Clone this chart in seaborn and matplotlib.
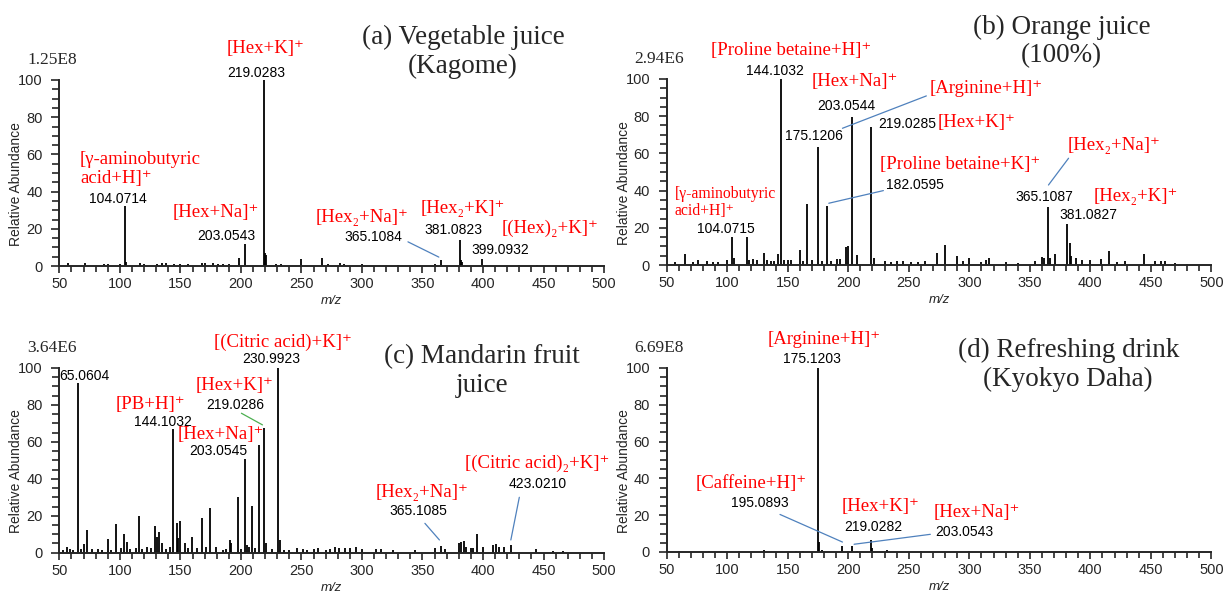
import matplotlib
matplotlib.use("Agg")
import matplotlib.pyplot as plt
from matplotlib.ticker import MultipleLocator
import seaborn as sns

# peaks: (m/z, relative abundance %)
peaks_a = [(57, 1.5), (71, 1.5), (87, 1.2), (90, 1.2), (100, 1.0), (104.07, 32), (105, 2),
           (117, 1.5), (120, 1.0), (131, 1.2), (135, 1.5), (138, 1.5), (145, 1.2), (150, 1.0),
           (156, 1.2), (168, 1.5), (170, 1.8), (177, 1.5), (181, 1.2), (185, 1.2), (190, 1.0),
           (198, 4.5), (203.05, 12), (219.03, 100), (220, 7), (221, 6), (229, 1.2), (233, 1.0),
           (250, 4), (267, 4.5), (272, 1.0), (282, 1.5), (285, 1.2), (300, 1.0), (330, 0.8),
           (360, 1.0), (365.11, 3), (381.08, 14), (382, 3), (383, 2), (399.09, 4), (430, 0.5),
           (445, 0.5)]

peaks_b = [(57, 1.5), (65, 5.8), (72, 1.5), (76, 2.5), (83, 2), (88, 1.5), (92, 1.5), (100, 2.5),
           (104.07, 15), (106, 3.5), (116, 15), (118, 2.5), (121, 3), (125, 2.5), (130, 6.5),
           (133, 2.5), (136, 2), (139, 2), (142, 6), (144.10, 100), (147, 2.5), (150, 2.5),
           (153, 2.5), (160, 8), (163, 2), (166, 32.6), (170, 2.5), (175.12, 63.6), (178, 2),
           (182.06, 31.5), (186, 2), (191, 3), (193, 3), (198, 9.5), (200, 10), (203.05, 79.3),
           (207, 5.6), (219.03, 74), (221, 4), (230, 2), (235, 1.5), (240, 2), (245, 2),
           (252, 1.5), (258, 1.5), (263, 2), (273, 6.7), (280, 10.8), (290, 4.9), (295, 2),
           (300, 4), (310, 1.5), (314, 2.5), (316, 3.6), (330, 1.5), (340, 1.2), (354, 2.2),
           (360, 4.5), (362, 4), (365.11, 31.2), (367, 3.6), (371, 5.8), (381.08, 22.2),
           (383, 12), (384, 5), (388, 4), (393, 2.7), (400, 2.7), (409, 3.2), (415, 7.6),
           (422, 1.5), (429, 2.2), (444, 5.8), (453, 2.3), (458, 2), (462, 2), (470, 1.0),
           (480, 0.8)]

peaks_c = [(53, 1.5), (56.6, 3), (59, 2), (61, 1.5), (65.06, 91.7), (68, 2), (70.6, 4.5),
           (73, 12.3), (77, 2), (82, 2), (85, 1.5), (90, 7.2), (93, 1.5), (97, 15.5), (101, 2.5),
           (103, 10.3), (105.6, 6), (108, 2), (113, 2.5), (115.5, 20), (118, 2), (122, 3.3),
           (126, 2.5), (129.3, 14.4), (131, 8.7), (132.6, 11), (134.8, 5), (138, 2), (141, 3),
           (144.10, 66.8), (147, 15.9), (148, 8), (149.6, 17.1), (153.8, 5), (156, 2.5),
           (159.8, 8.5), (164, 2.5), (167.5, 19), (171, 3), (174.7, 24.4), (179.6, 3.3),
           (185, 1.5), (188, 2), (191, 6.9), (192, 5), (197.5, 30.1), (200, 2), (203.05, 50.9),
           (204.8, 4), (207, 3), (209.5, 25.3), (212, 2.5), (215, 58.1), (219.03, 67.7),
           (220.4, 5.4), (226, 2), (230.99, 100), (232, 6.9), (236, 1.5), (240, 1.5), (246, 2.7),
           (251, 2), (255, 1.5), (260, 2), (264, 2.5), (270, 1.5), (274, 2), (278, 3),
           (281, 2.5), (286, 2.5), (290, 2.5), (295, 3), (300, 2), (312, 2), (316, 2),
           (326, 1.5), (344, 1.5), (360, 2.5), (365.11, 3.6), (369, 2), (380, 5.4), (382, 6),
           (384, 6.3), (386, 3), (390, 2.5), (392, 2.5), (395, 10.3), (400, 3), (408, 4.2),
           (411, 4.5), (413, 3), (417, 3), (423.02, 4.2), (444, 2), (458, 1.0), (466, 1.0)]

peaks_d = [(60, 0.5), (85, 0.4), (110, 0.4), (130, 1.0), (157, 0.6), (163, 0.8), (175.12, 100),
           (176, 5.4), (178, 1.0), (195.09, 3), (200, 0.6), (203.05, 3.2), (207, 0.6),
           (219.03, 6.7), (220, 2), (232, 1.0), (260, 0.4), (300, 0.3), (350, 0.3), (381, 0.8),
           (383, 0.5)]

scales = ["1.25E8", "2.94E6", "3.64E6", "6.69E8"]
titles = ["(a) Vegetable juice\n(Kagome)", "(b) Orange juice\n(100%)",
          "(c) Mandarin fruit\njuice", "(d) Refreshing drink\n(Kyokyo Daha)"]

# annotations: (x, y, text, kind)  kind: ion = red label, mz = black number
notes_a = [
    (220, 117, "[Hex+K]⁺", "ion"), (213, 104, "219.0283", "mz"),
    (67, 52.4, "[γ-aminobutyric\nacid+H]⁺", "ionL"), (98.6, 36, "104.0714", "mz"),
    (179.5, 29, "[Hex+Na]⁺", "ion"), (188, 16, "203.0543", "mz"),
    (300, 26.3, "[Hex₂+Na]⁺", "ion"), (309.5, 15.6, "365.1084", "mz"),
    (383, 31, "[Hex₂+K]⁺", "ion"), (375.6, 19.4, "381.0823", "mz"),
    (455.6, 20, "[(Hex)₂+K]⁺", "ion"), (414, 8.6, "399.0932", "mz"),
]
notes_b = [
    (152.7, 115.2, "[Proline betaine+H]⁺", "ion"), (139, 104.3, "144.1032", "mz"),
    (205.2, 98.6, "[Hex+Na]⁺", "ion"), (198, 85.5, "203.0544", "mz"),
    (314, 95, "[Arginine+H]⁺", "ion"), (171.5, 69.4, "175.1206", "mz"),
    (248.7, 75.6, "219.0285", "mz"), (306, 76.5, "[Hex+K]⁺", "ion"),
    (292, 53.8, "[Proline betaine+K]⁺", "ion"), (254.7, 43, "182.0595", "mz"),
    (56.4, 33.6, "[γ-aminobutyric\nacid+H]⁺", "ionS"), (98.8, 19.2, "104.0715", "mz"),
    (420, 64.5, "[Hex₂+Na]⁺", "ion"), (361.6, 36.4, "365.1087", "mz"),
    (437.6, 37, "[Hex₂+K]⁺", "ion"), (398.8, 26.9, "381.0827", "mz"),
]
notes_c = [
    (234.4, 113.8, "[(Citric acid)+K]⁺", "ion"), (224.8, 104.8, "230.9923", "mz"),
    (71, 95.7, "65.0604", "mz"),
    (194.4, 90.5, "[Hex+K]⁺", "ion"), (195, 80, "219.0286", "mz"),
    (125.2, 80.4, "[PB+H]⁺", "ion"), (135.2, 70.6, "144.1032", "mz"),
    (183, 63.8, "[Hex+Na]⁺", "ion"), (181.5, 55.3, "203.0545", "mz"),
    (444.5, 48.4, "[(Citric acid)₂+K]⁺", "ion"), (444.9, 37, "423.0210", "mz"),
    (349.6, 32.5, "[Hex₂+Na]⁺", "ion"), (346.7, 22.8, "365.1085", "mz"),
]
notes_d = [
    (179.7, 115.6, "[Arginine+H]⁺", "ion"), (169.8, 104.8, "175.1203", "mz"),
    (119.4, 37, "[Caffeine+H]⁺", "ion"), (126.9, 26.8, "195.0893", "mz"),
    (226.8, 24.9, "[Hex+K]⁺", "ion"), (220.4, 13.5, "219.0282", "mz"),
    (306, 21.3, "[Hex+Na]⁺", "ion"), (295.6, 11, "203.0543", "mz"),
]

# leader lines: (x0, y0, x1, y1, colour)
BLUE = "#4f81bd"
lines_a = [(338, 13, 363.5, 4.8, BLUE)]
lines_b = [(264.5, 90.9, 195.2, 73.5, BLUE), (229, 40, 183.9, 33.2, BLUE),
           (382, 57.4, 365.4, 43, BLUE)]
lines_c = [(200.4, 75.5, 217.8, 69.2, "#4caf50"), (430, 30, 423, 6.9, BLUE),
           (352, 15.9, 364, 6.9, BLUE)]
lines_d = [(143.6, 20.4, 195.2, 5.4, BLUE), (267.8, 9.6, 204.8, 4.2, BLUE)]

title_pos = [(383.4, 115.3), (376.4, 120.2), (399, 98.4), (381.7, 101.7)]

sns.set_style("ticks")
plt.rcParams["font.family"] = ["Liberation Sans", "DejaVu Sans"]

fig = plt.figure(figsize=(12.24, 5.97), dpi=100)
boxes = [(0.0485, 0.5544, 0.445, 0.3116), (0.5447, 0.5561, 0.445, 0.3116),
         (0.0485, 0.0742, 0.445, 0.3094), (0.5447, 0.0754, 0.445, 0.3082)]

SERIF = ["Liberation Serif", "DejaVu Serif"]


def draw_panel(ax, peaks, scale, title, tpos, notes, leaders):
    mz = [p[0] for p in peaks]
    ab = [p[1] for p in peaks]
    ax.vlines(mz, 0, ab, color="black", lw=1.3, clip_on=False)
    ax.set_xlim(50, 500)
    ax.set_ylim(0, 100)
    ax.xaxis.set_major_locator(MultipleLocator(50))
    ax.xaxis.set_minor_locator(MultipleLocator(10))
    ax.yaxis.set_major_locator(MultipleLocator(20))
    ax.yaxis.set_minor_locator(MultipleLocator(5))
    ax.tick_params(axis="x", which="major", length=5, width=1.2, pad=3, labelsize=10.5)
    ax.tick_params(axis="x", which="minor", length=4, width=1.2)
    ax.tick_params(axis="y", which="major", length=6, width=1.2, pad=6, labelsize=10.5)
    ax.tick_params(axis="y", which="minor", length=5, width=1.2)
    for s in ["left", "bottom"]:
        ax.spines[s].set_linewidth(1.4)
    sns.despine(ax=ax)
    ax.set_xlabel("m/z", style="italic", fontsize=9.5, labelpad=3)
    ax.set_ylabel("Relative Abundance", fontsize=10, labelpad=2)
    ax.yaxis.set_label_coords(-0.066, 0.44)

    ax.text(23.5, 111, scale, family=SERIF, fontsize=12.5, ha="left", va="center",
            clip_on=False)
    ax.text(tpos[0], tpos[1], title, family=SERIF, fontsize=19.5, ha="center",
            va="center", linespacing=1.2, clip_on=False)
    for x, y, t, kind in notes:
        if kind == "mz":
            ax.text(x, y, t, fontsize=10, ha="center", va="center", color="black",
                    clip_on=False)
        elif kind == "ion":
            ax.text(x, y, t, family=SERIF, fontsize=13.5, ha="center", va="center",
                    color="red", clip_on=False)
        else:
            size = 13.5 if kind == "ionL" else 11.3
            ax.text(x, y, t, family=SERIF, fontsize=size, ha="left", va="center",
                    color="red", linespacing=1.15, multialignment="left", clip_on=False)
    for x0, y0, x1, y1, c in leaders:
        ax.plot([x0, x1], [y0, y1], color=c, lw=0.9, clip_on=False)


all_peaks = [peaks_a, peaks_b, peaks_c, peaks_d]
all_notes = [notes_a, notes_b, notes_c, notes_d]
all_lines = [lines_a, lines_b, lines_c, lines_d]
for i in range(4):
    ax = fig.add_axes(boxes[i])
    draw_panel(ax, all_peaks[i], scales[i], titles[i], title_pos[i], all_notes[i],
               all_lines[i])

fig.savefig("out.png", dpi=100)
